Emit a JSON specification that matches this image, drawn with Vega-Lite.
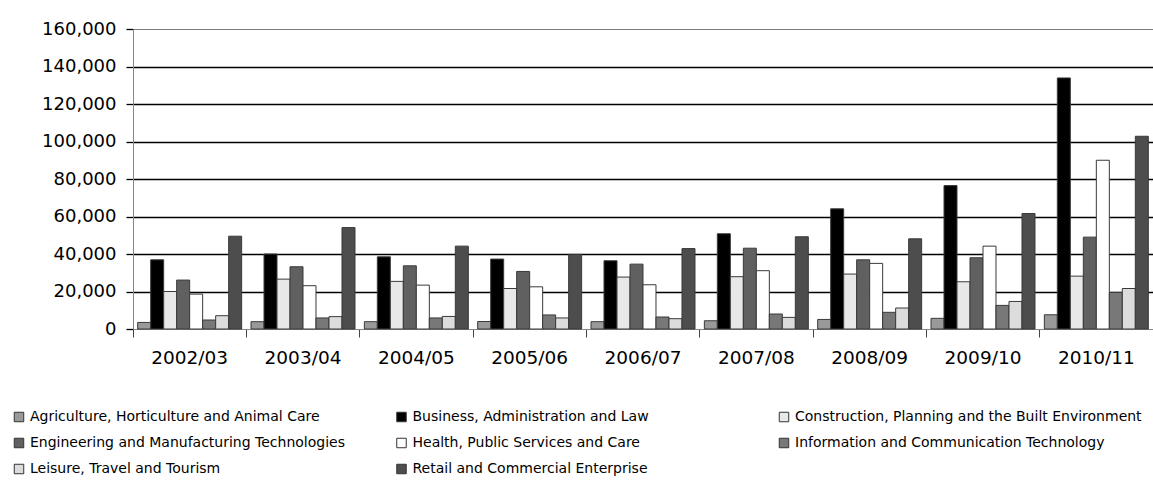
{
  "$schema": "https://vega.github.io/schema/vega-lite/v6.json",
  "width": 1020,
  "height": 300,
  "autosize": {"type": "none"},
  "padding": {"left": 133, "top": 29, "right": 0, "bottom": 156},
  "background": "white",
  "config": {"view": {"stroke": null}, "font": "DejaVu Sans"},
  "data": {"values": [
    {"year": "2002/03", "sector": "Agriculture, Horticulture and Animal Care", "value": 3500},
    {"year": "2002/03", "sector": "Business, Administration and Law", "value": 36900},
    {"year": "2002/03", "sector": "Construction, Planning and the Built Environment", "value": 20000},
    {"year": "2002/03", "sector": "Engineering and Manufacturing Technologies", "value": 26100},
    {"year": "2002/03", "sector": "Health, Public Services and Care", "value": 18600},
    {"year": "2002/03", "sector": "Information and Communication Technology", "value": 4800},
    {"year": "2002/03", "sector": "Leisure, Travel and Tourism", "value": 7100},
    {"year": "2002/03", "sector": "Retail and Commercial Enterprise", "value": 49500},
    {"year": "2003/04", "sector": "Agriculture, Horticulture and Animal Care", "value": 3900},
    {"year": "2003/04", "sector": "Business, Administration and Law", "value": 40000},
    {"year": "2003/04", "sector": "Construction, Planning and the Built Environment", "value": 26600},
    {"year": "2003/04", "sector": "Engineering and Manufacturing Technologies", "value": 33200},
    {"year": "2003/04", "sector": "Health, Public Services and Care", "value": 23100},
    {"year": "2003/04", "sector": "Information and Communication Technology", "value": 5900},
    {"year": "2003/04", "sector": "Leisure, Travel and Tourism", "value": 6600},
    {"year": "2003/04", "sector": "Retail and Commercial Enterprise", "value": 54100},
    {"year": "2004/05", "sector": "Agriculture, Horticulture and Animal Care", "value": 3900},
    {"year": "2004/05", "sector": "Business, Administration and Law", "value": 38500},
    {"year": "2004/05", "sector": "Construction, Planning and the Built Environment", "value": 25400},
    {"year": "2004/05", "sector": "Engineering and Manufacturing Technologies", "value": 33700},
    {"year": "2004/05", "sector": "Health, Public Services and Care", "value": 23400},
    {"year": "2004/05", "sector": "Information and Communication Technology", "value": 5900},
    {"year": "2004/05", "sector": "Leisure, Travel and Tourism", "value": 6700},
    {"year": "2004/05", "sector": "Retail and Commercial Enterprise", "value": 44200},
    {"year": "2005/06", "sector": "Agriculture, Horticulture and Animal Care", "value": 4000},
    {"year": "2005/06", "sector": "Business, Administration and Law", "value": 37300},
    {"year": "2005/06", "sector": "Construction, Planning and the Built Environment", "value": 21600},
    {"year": "2005/06", "sector": "Engineering and Manufacturing Technologies", "value": 30700},
    {"year": "2005/06", "sector": "Health, Public Services and Care", "value": 22500},
    {"year": "2005/06", "sector": "Information and Communication Technology", "value": 7500},
    {"year": "2005/06", "sector": "Leisure, Travel and Tourism", "value": 5900},
    {"year": "2005/06", "sector": "Retail and Commercial Enterprise", "value": 39800},
    {"year": "2006/07", "sector": "Agriculture, Horticulture and Animal Care", "value": 3900},
    {"year": "2006/07", "sector": "Business, Administration and Law", "value": 36400},
    {"year": "2006/07", "sector": "Construction, Planning and the Built Environment", "value": 27700},
    {"year": "2006/07", "sector": "Engineering and Manufacturing Technologies", "value": 34600},
    {"year": "2006/07", "sector": "Health, Public Services and Care", "value": 23600},
    {"year": "2006/07", "sector": "Information and Communication Technology", "value": 6400},
    {"year": "2006/07", "sector": "Leisure, Travel and Tourism", "value": 5500},
    {"year": "2006/07", "sector": "Retail and Commercial Enterprise", "value": 42900},
    {"year": "2007/08", "sector": "Agriculture, Horticulture and Animal Care", "value": 4400},
    {"year": "2007/08", "sector": "Business, Administration and Law", "value": 50800},
    {"year": "2007/08", "sector": "Construction, Planning and the Built Environment", "value": 27900},
    {"year": "2007/08", "sector": "Engineering and Manufacturing Technologies", "value": 43100},
    {"year": "2007/08", "sector": "Health, Public Services and Care", "value": 31100},
    {"year": "2007/08", "sector": "Information and Communication Technology", "value": 8000},
    {"year": "2007/08", "sector": "Leisure, Travel and Tourism", "value": 6200},
    {"year": "2007/08", "sector": "Retail and Commercial Enterprise", "value": 49200},
    {"year": "2008/09", "sector": "Agriculture, Horticulture and Animal Care", "value": 5100},
    {"year": "2008/09", "sector": "Business, Administration and Law", "value": 64100},
    {"year": "2008/09", "sector": "Construction, Planning and the Built Environment", "value": 29300},
    {"year": "2008/09", "sector": "Engineering and Manufacturing Technologies", "value": 36900},
    {"year": "2008/09", "sector": "Health, Public Services and Care", "value": 35000},
    {"year": "2008/09", "sector": "Information and Communication Technology", "value": 8900},
    {"year": "2008/09", "sector": "Leisure, Travel and Tourism", "value": 11200},
    {"year": "2008/09", "sector": "Retail and Commercial Enterprise", "value": 48100},
    {"year": "2009/10", "sector": "Agriculture, Horticulture and Animal Care", "value": 5700},
    {"year": "2009/10", "sector": "Business, Administration and Law", "value": 76500},
    {"year": "2009/10", "sector": "Construction, Planning and the Built Environment", "value": 25200},
    {"year": "2009/10", "sector": "Engineering and Manufacturing Technologies", "value": 38000},
    {"year": "2009/10", "sector": "Health, Public Services and Care", "value": 44200},
    {"year": "2009/10", "sector": "Information and Communication Technology", "value": 12600},
    {"year": "2009/10", "sector": "Leisure, Travel and Tourism", "value": 14700},
    {"year": "2009/10", "sector": "Retail and Commercial Enterprise", "value": 61600},
    {"year": "2010/11", "sector": "Agriculture, Horticulture and Animal Care", "value": 7600},
    {"year": "2010/11", "sector": "Business, Administration and Law", "value": 133900},
    {"year": "2010/11", "sector": "Construction, Planning and the Built Environment", "value": 28200},
    {"year": "2010/11", "sector": "Engineering and Manufacturing Technologies", "value": 49000},
    {"year": "2010/11", "sector": "Health, Public Services and Care", "value": 90000},
    {"year": "2010/11", "sector": "Information and Communication Technology", "value": 19500},
    {"year": "2010/11", "sector": "Leisure, Travel and Tourism", "value": 21600},
    {"year": "2010/11", "sector": "Retail and Commercial Enterprise", "value": 102800}
  ]},
  "mark": {"type": "bar", "stroke": "#3a3a3a", "strokeWidth": 1},
  "encoding": {
    "x": {
      "field": "year", "type": "nominal",
      "scale": {"paddingInner": 0, "paddingOuter": 0},
      "axis": {
        "title": null, "labelAngle": 0, "bandPosition": 0,
        "domainColor": "#888888", "domainWidth": 1,
        "tickColor": "#444444", "tickSize": 8, "tickWidth": 1,
        "labelFontSize": 18.5, "labelColor": "#000000", "labelPadding": 11
      }
    },
    "xOffset": {
      "field": "sector", "type": "nominal",
      "scale": {"paddingInner": 0, "paddingOuter": 0.36}
    },
    "y": {
      "field": "value", "type": "quantitative",
      "scale": {"domain": [0, 160000], "nice": false},
      "axis": {
        "title": null,
        "values": [0, 20000, 40000, 60000, 80000, 100000, 120000, 140000, 160000],
        "format": ",.0f",
        "grid": true,
        "gridColor": {"condition": {"test": "datum.value === 160000 || datum.value === 0", "value": "#7a7a7a"}, "value": "#000000"},
        "gridWidth": {"condition": {"test": "datum.value === 160000 || datum.value === 0", "value": 1}, "value": 1.6},
        "domainColor": "#888888", "domainWidth": 1,
        "tickColor": "#000000", "tickSize": 7, "tickWidth": 1.3,
        "labelFontSize": 18, "labelColor": "#000000", "labelPadding": 10
      }
    },
    "color": {
      "field": "sector", "type": "nominal",
      "scale": {
        "domain": [
          "Agriculture, Horticulture and Animal Care",
          "Business, Administration and Law",
          "Construction, Planning and the Built Environment",
          "Engineering and Manufacturing Technologies",
          "Health, Public Services and Care",
          "Information and Communication Technology",
          "Leisure, Travel and Tourism",
          "Retail and Commercial Enterprise"
        ],
        "range": ["#999999", "#000000", "#e8e8e8", "#606060", "#ffffff", "#787878", "#dcdcdc", "#4d4d4d"]
      },
      "legend": {
        "title": null,
        "orient": "none",
        "legendX": -121,
        "legendY": 381,
        "direction": "horizontal",
        "columns": 3,
        "gridAlign": "all",
        "columnPadding": 17.5,
        "rowPadding": 12,
        "symbolType": "square",
        "symbolSize": 90,
        "symbolStrokeColor": "#333333",
        "symbolStrokeWidth": 1,
        "symbolOpacity": 1,
        "labelFontSize": 14,
        "labelColor": "#000000",
        "labelOffset": 4,
        "labelLimit": 500
      }
    }
  }
}
